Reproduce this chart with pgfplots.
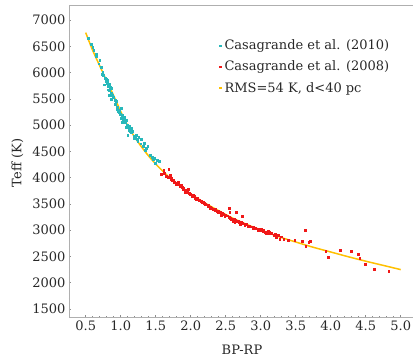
\documentclass[border=0pt]{standalone}
\usepackage{fontspec}
\setmainfont{DejaVu Serif}
\usepackage{pgfplots}
\usepackage{pgfplotstable}
\pgfplotsset{compat=1.18}

\definecolor{teal2010}{RGB}{40,184,186}
\definecolor{red2008}{RGB}{240,24,24}
\definecolor{fitgold}{RGB}{255,192,0}
\definecolor{framegray}{RGB}{175,175,175}
\definecolor{tickgray}{RGB}{140,140,140}
\definecolor{txt}{RGB}{40,40,40}

% Casagrande et al. (2010): BP-RP, Teff
\pgfplotstableread{
x T
0.542 6651
0.580 6530
0.604 6479
0.619 6416
0.652 6346
0.660 6300
0.690 6162
0.704 6225
0.720 6100
0.738 5965
0.747 5997
0.760 5950
0.771 5762
0.780 5880
0.795 5870
0.800 5830
0.804 5794
0.810 5800
0.819 5844
0.819 5667
0.828 5730
0.830 5760
0.840 5650
0.842 5775
0.842 5571
0.850 5720
0.866 5698
0.866 5489
0.870 5600
0.880 5560
0.900 5520
0.920 5470
0.930 5400
0.938 5444
0.952 5337
0.960 5300
0.961 5254
0.980 5240
0.985 5286
1.000 5200
1.009 5318
1.009 5127
1.020 5170
1.023 5044
1.033 5190
1.040 5110
1.057 5146
1.060 5080
1.070 5040
1.080 5095
1.080 4956
1.090 4990
1.095 5000
1.104 4810
1.110 4950
1.120 4900
1.128 4968
1.140 4880
1.152 4937
1.160 4850
1.176 4873
1.190 4790
1.200 4746
1.210 4760
1.223 4810
1.240 4720
1.247 4683
1.261 4765
1.290 4640
1.295 4727
1.320 4600
1.342 4651
1.360 4520
1.366 4556
1.390 4600
1.430 4420
1.450 4390
1.470 4350
1.485 4365
1.495 4270
1.520 4330
1.557 4302
}\casa

% Casagrande et al. (2008): BP-RP, Teff
\pgfplotstableread{
x T
1.586 4066
1.619 4143
1.620 4080
1.660 4030
1.680 4010
1.690 4155
1.705 4047
1.720 3960
1.729 3984
1.740 3950
1.752 3939
1.770 3910
1.790 3876
1.800 3880
1.824 3901
1.830 3860
1.850 3830
1.871 3857
1.880 3810
1.895 3793
1.900 3770
1.919 3711
1.930 3750
1.943 3762
1.950 3720
1.967 3774
1.980 3700
1.990 3698
2.000 3680
2.020 3660
2.029 3647
2.038 3667
2.050 3650
2.062 3622
2.070 3610
2.086 3584
2.100 3600
2.120 3560
2.133 3571
2.150 3550
2.171 3520
2.180 3530
2.200 3500
2.205 3495
2.230 3480
2.250 3470
2.252 3444
2.280 3440
2.286 3412
2.300 3420
2.330 3400
2.348 3393
2.360 3380
2.380 3350
2.395 3330
2.400 3360
2.420 3340
2.443 3285
2.450 3310
2.470 3300
2.490 3254
2.500 3280
2.520 3270
2.552 3420
2.550 3240
2.562 3330
2.570 3220
2.586 3203
2.600 3210
2.610 3158
2.620 3200
2.633 3139
2.640 3190
2.657 3330
2.660 3170
2.680 3160
2.700 3150
2.705 3114
2.720 3140
2.740 3120
2.743 3254
2.776 3095
2.780 3110
2.800 3100
2.824 3063
2.840 3080
2.870 3060
2.895 3032
2.900 3050
2.930 3030
2.967 3000
2.970 3010
3.000 3000
3.014 3013
3.038 2981
3.040 2990
3.070 2960
3.086 2937
3.110 2968
3.120 2940
3.133 2949
3.160 2930
3.200 2900
3.205 2924
3.228 2854
3.252 2905
3.276 2829
3.300 2870
3.333 2829
3.395 2797
3.490 2810
3.600 2791
3.643 3000
3.647 2696
3.690 2759
3.714 2778
3.933 2588
3.967 2473
4.143 2619
4.300 2588
4.395 2537
4.419 2461
4.500 2346
4.624 2251
4.833 2213
}\casb

% Fitted colour-temperature relation
\pgfplotstableread{
x T
0.50 6760
0.60 6420
0.70 6130
0.80 5840
0.90 5560
1.00 5260
1.10 4990
1.20 4770
1.30 4580
1.40 4410
1.50 4260
1.65 4060
1.80 3890
2.00 3690
2.20 3520
2.40 3370
2.60 3230
2.80 3110
3.00 3005
3.25 2880
3.50 2775
3.75 2675
4.00 2585
4.25 2495
4.50 2410
4.75 2330
5.00 2250
}\fit

\begin{document}
\begin{tikzpicture}
\begin{axis}[
  at={(0,0)}, anchor=south west,
  scale only axis, width=345bp, height=312bp,
  xmin=0.2614, xmax=5.19, ymin=1347.7, ymax=7285.5,
  xtick={0.5,1,...,5}, ytick={1500,2000,...,7000},
  minor x tick num=4, minor y tick num=4,
  xtick pos=bottom, ytick pos=left, tick align=inside,
  major tick length=2.5bp, minor tick length=1.5bp,
  every tick/.style={tickgray, line width=0.5bp},
  axis line style={framegray, line width=0.8bp},
  ticklabel style={font=\fontsize{13bp}{15bp}\selectfont, text=txt},
  /pgf/number format/assume math mode=true,
  /pgf/number format/1000 sep={},
  xticklabel style={/pgf/number format/.cd, fixed, fixed zerofill, precision=1},
  scaled ticks=false,
  xlabel={BP-RP}, ylabel={Teff (K)},
  every axis x label/.style={at={(axis description cs:0.5014,-0.1058)}, anchor=center,
    font=\fontsize{13bp}{15bp}\selectfont, text=txt},
  every axis y label/.style={at={(axis description cs:-0.1493,0.494)}, anchor=center, rotate=90,
    font=\fontsize{13bp}{15bp}\selectfont, text=txt},
  legend cell align=left,
  legend style={at={(axis description cs:0.4348,0.888)}, anchor=north west,
    draw=none, fill=none, inner sep=0pt, row sep=9.2bp, column sep=3.5bp,
    font=\fontsize{13bp}{15bp}\selectfont, text=txt,
    nodes={inner sep=0pt, text height=9.5bp, text depth=2.5bp}},
]
\addlegendimage{legend image code/.code={\fill[teal2010] (0bp,-0.1bp) rectangle (1.4bp,1.3bp);}}
\addlegendentry{Casagrande et al. (2010)}
\addlegendimage{legend image code/.code={\fill[red2008] (0bp,-0.1bp) rectangle (1.4bp,1.3bp);}}
\addlegendentry{Casagrande et al. (2008)}
\addlegendimage{legend image code/.code={\fill[fitgold] (0bp,-0.1bp) rectangle (1.4bp,1.3bp);}}
\addlegendentry{RMS=54 K, d<40 pc}

\addplot[forget plot, teal2010, only marks, mark=square*, mark size=0.95bp,
  mark options={line width=0pt}] table[x=x, y=T] {\casa};
\addplot[forget plot, red2008, only marks, mark=square*, mark size=0.95bp,
  mark options={line width=0pt}] table[x=x, y=T] {\casb};
\addplot[forget plot, smooth, fitgold, line width=1.5bp] table[x=x, y=T] {\fit};
\end{axis}
\pgfresetboundingbox
\path[use as bounding box] (-69bp,-41bp) rectangle (344bp,317bp);
\end{tikzpicture}
\end{document}
